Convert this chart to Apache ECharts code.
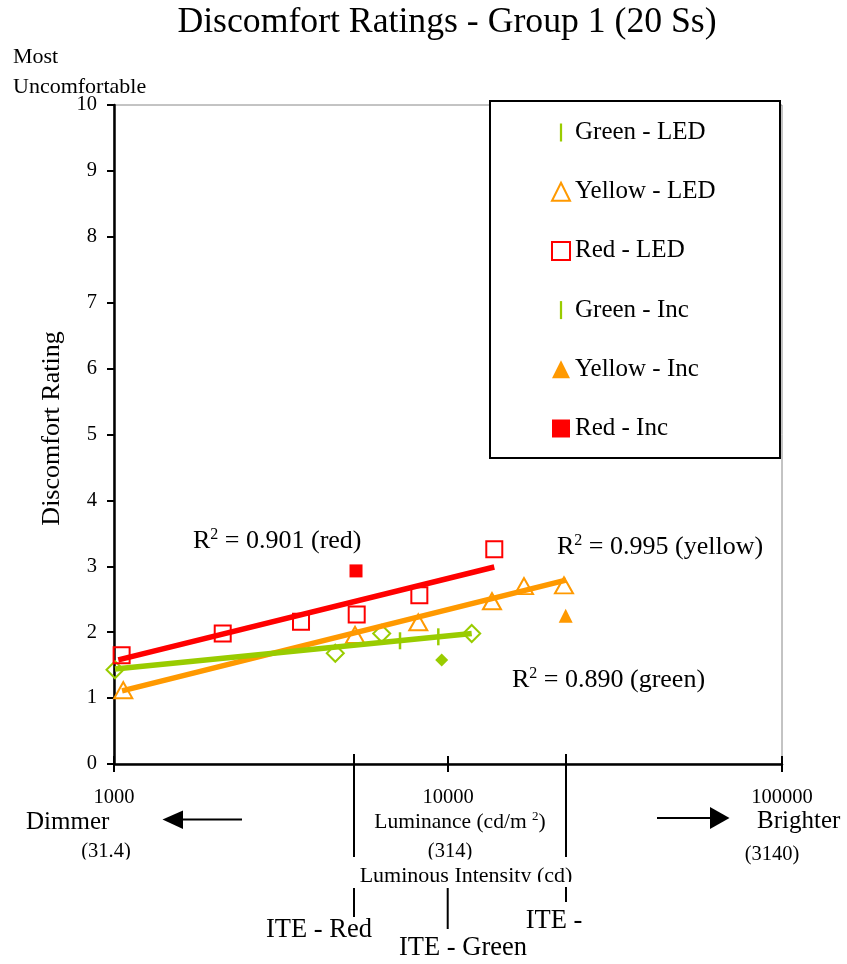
<!DOCTYPE html>
<html><head><meta charset="utf-8">
<script src="https://cdn.jsdelivr.net/npm/echarts@6/dist/echarts.min.js"></script>
<style>html,body{margin:0;padding:0;background:#fff}#c{width:847px;height:964px}</style>
</head><body><div id="c"></div>
<script>
// ---------- data ----------
const xTicks = [1000, 10000, 100000];
const xTickLabels = ['1000', '10000', '100000'];
const intensityLabels = ['(31.4)', '(314)', '(3140)'];

const greenLedX = [1007, 4598, 6331, 11777];
const greenLedY = [1.43, 1.68, 1.98, 1.98];
const greenLedTickX = [7183, 9354];
const greenLedTickY = [1.87, 1.93];
const yellowLedX = [1066, 5268, 8147, 13543, 16886, 22248];
const yellowLedY = [1.12, 1.96, 2.15, 2.47, 2.70, 2.71];
const redLedX = [1054, 2116, 3630, 5329, 8207, 13759];
const redLedY = [1.65, 1.98, 2.16, 2.27, 2.56, 3.26];
const greenIncX = [9574];
const greenIncY = [1.58];
const yellowIncX = [22510];
const yellowIncY = [2.25];
const redIncX = [5304];
const redIncY = [2.93];

const redTrendX = [1030, 13759];
const redTrendY = [1.58, 2.99];
const yellowTrendX = [1057, 22560];
const yellowTrendY = [1.11, 2.79];
const greenTrendX = [1007, 11777];
const greenTrendY = [1.44, 1.98];

const rSquaredLabels = ['0.901 (red)', '0.995 (yellow)', '0.890 (green)'];
const iteX = [5230, 9980, 22560];
const iteLabels = ['ITE - Red', 'ITE - Green', 'ITE -'];
const legendNames = ['Green - LED', 'Yellow - LED', 'Red - LED', 'Green - Inc', 'Yellow - Inc', 'Red - Inc'];

// ---------- styling ----------
const FONT = '"Liberation Serif","Times New Roman",serif';
const GREEN = '#99CC00', ORANGE = '#FF9900', RED = '#FF0000';
const pairs = (xs, ys) => xs.map((x, i) => [x, ys[i]]);
const open = c => ({ color: 'rgba(0,0,0,0)', borderColor: c, borderWidth: 2, opacity: 1 });
const solid = c => ({ color: c, opacity: 1 });
const BAR = 'path://M0,0h2v16h-2z';

const chart = echarts.init(document.getElementById('c'), null, { renderer: 'canvas' });

const baseX = {
  type: 'log', logBase: 10, min: xTicks[0], max: xTicks[xTicks.length - 1],
  gridIndex: 0, position: 'bottom', splitLine: { show: false }, minorTick: { show: false }
};

const trend = (name, xs, ys, c) => ({
  name, type: 'line', data: pairs(xs, ys), symbol: 'none', z: 3, silent: true,
  lineStyle: { color: c, width: 5.5 }, emphasis: { disabled: true }
});
const scat = (name, xs, ys, symbol, size, style) => ({
  name, type: 'scatter', data: pairs(xs, ys), symbol, symbolSize: size, symbolKeepAspect: false,
  itemStyle: style, z: 2, silent: true, emphasis: { disabled: true }
});

chart.setOption({
  animation: false,
  backgroundColor: '#fff',
  grid: { left: 114, right: 65, top: 105, bottom: 200, show: true, borderColor: '#888', borderWidth: 1, containLabel: false },
  xAxis: [
    Object.assign({}, baseX, {
      axisLine: { show: true, onZero: false, lineStyle: { color: '#000', width: 2.5 } },
      axisTick: { show: true, length: 8, lineStyle: { color: '#000', width: 2 } },
      axisLabel: {
        show: true, margin: 23, fontSize: 20.5, fontFamily: FONT, color: '#000',
        formatter: (v) => { const i = xTicks.findIndex(t => Math.abs(t - v) / t < 1e-6); return i >= 0 ? xTickLabels[i] : ''; }
      }
    }),
    Object.assign({}, baseX, {
      axisLine: { show: false },
      axisTick: { show: true, inside: true, length: 8, lineStyle: { color: '#000', width: 2 } },
      axisLabel: { show: false }
    })
  ],
  yAxis: {
    type: 'value', min: 0, max: 10, interval: 1,
    axisLine: { show: true, onZero: false, lineStyle: { color: '#000', width: 2.5 } },
    axisTick: { show: true, length: 7, lineStyle: { color: '#000', width: 2 } },
    axisLabel: { margin: 17, fontSize: 20.5, fontFamily: FONT, color: '#000', padding: [4, 0, 0, 0] },
    splitLine: { show: false },
    name: 'Discomfort Rating', nameLocation: 'middle', nameGap: 49, nameRotate: 90,
    nameTextStyle: { fontSize: 26, fontFamily: FONT, color: '#000', padding: [0, 0, 0, 12] }
  },
  legend: {
    orient: 'vertical', left: 551, top: 120, padding: 0, z: 10,
    itemWidth: 18, itemHeight: 18, itemGap: 34.2, selectedMode: false,
    textStyle: { fontSize: 25, fontFamily: FONT, color: '#000', lineHeight: 25 },
    data: legendNames.map(n => n.indexOf('Green') === 0
      ? { name: n, icon: BAR, itemStyle: { color: GREEN, borderWidth: 0 } }
      : { name: n })
  },
  series: [
    scat('Green - LED', greenLedX, greenLedY, 'diamond', 17, open(GREEN)),
    scat('Green - LED', greenLedTickX, greenLedTickY, BAR, [2.5, 17], solid(GREEN)),
    scat('Yellow - LED', yellowLedX, yellowLedY, 'triangle', [18, 16], open(ORANGE)),
    scat('Red - LED', redLedX, redLedY, 'rect', 16, open(RED)),
    scat('Green - Inc', greenIncX, greenIncY, 'diamond', 13, solid(GREEN)),
    scat('Yellow - Inc', yellowIncX, yellowIncY, 'triangle', 14, solid(ORANGE)),
    scat('Red - Inc', redIncX, redIncY, 'rect', 13, solid(RED)),
    trend('Red trend', redTrendX, redTrendY, RED),
    trend('Yellow trend', yellowTrendX, yellowTrendY, ORANGE),
    trend('Green trend', greenTrendX, greenTrendY, GREEN)
  ]
});

// ---------- annotations positioned through the axes ----------
const px = v => chart.convertToPixel({ xAxisIndex: 0 }, v);
const py = v => chart.convertToPixel({ yAxisIndex: 0 }, v);
const axisY = py(0);

const T = (text, x, y, size, align, z) => ({
  type: 'text', x, y, z: z || 20, silent: true,
  style: { text, font: size + 'px ' + FONT, fill: '#000', align: align || 'left', verticalAlign: 'middle' }
});
const sup = (pre, s, post, x, y, size, align) => ({
  type: 'text', x, y, z: 20, silent: true,
  style: {
    text: '{a|' + pre + '}{b|' + s + '}{a|' + post + '}', align: align || 'left', verticalAlign: 'middle',
    rich: {
      a: { fontSize: size, fontFamily: FONT, fill: '#000', lineHeight: size + 2 },
      b: { fontSize: Math.round(size * 0.62), fontFamily: FONT, fill: '#000', verticalAlign: 'top', lineHeight: Math.round(size * 0.62) }
    }
  }
});
const L = (x1, y1, x2, y2, w) => ({ type: 'line', z: 20, silent: true, shape: { x1, y1, x2, y2 }, style: { stroke: '#000', lineWidth: w || 2 } });
const W = (x, y, w, h) => ({ type: 'rect', z: 25, silent: true, shape: { x, y, width: w, height: h }, style: { fill: '#fff' } });

const g = [];
// legend frame
g.push({ type: 'rect', z: 5, silent: true, shape: { x: 490, y: 101, width: 290, height: 357 }, style: { fill: '#fff', stroke: '#000', lineWidth: 2 } });
// title and corner text
g.push(T('Discomfort Ratings - Group 1 (20 Ss)', 447, 23, 35.7, 'center'));
g.push(T('Most', 13, 57, 22));
g.push(T('Uncomfortable', 13, 87, 22));
// R squared labels
g.push(sup('R', '2', ' = ' + rSquaredLabels[0], 193, 541, 26));
g.push(sup('R', '2', ' = ' + rSquaredLabels[1], 557, 547, 26));
g.push(sup('R', '2', ' = ' + rSquaredLabels[2], 512, 680, 26));
// below axis: Dimmer / Brighter and arrows
g.push(T('Dimmer', 26, 822, 25));
g.push(T('Brighter', 757, 821, 25));
g.push(L(242, 819.5, 181, 819.5, 2));
g.push({ type: 'polygon', z: 20, silent: true, shape: { points: [[162.5, 819.5], [183, 810.5], [183, 829]] }, style: { fill: '#000' } });
g.push(L(657, 818, 711, 818, 2));
g.push({ type: 'polygon', z: 20, silent: true, shape: { points: [[729.5, 818], [710, 807], [710, 829]] }, style: { fill: '#000' } });
g.push(sup('Luminance (cd/m ', '2', ')', 460, 822, 21.5, 'center'));
// luminous intensity equivalents under each tick
const subDx = [-8, 2, -10], subY = [852, 852, 855];
xTicks.forEach((t, i) => g.push(T(intensityLabels[i], px(t) + subDx[i], subY[i], 20.5, 'center')));
g.push(W(60, 859.5, 440, 7));
g.push(T('Luminous Intensity (cd)', 466, 876, 22, 'center'));
g.push(W(355, 882, 225, 5));
// ITE markers: [label x, label y, clip top, clip half width, clip height]
const iteSegs = [[[axisY - 10, 857], [888, 917]], [[888, 929]], [[axisY - 10, 857], [887, 902]]];
const iteLabelPos = [[319, 930, 937, 62, 27], [463, 948, 957, 72, 7], [554, 921, 928, 38, 10]];
iteX.forEach((v, i) => {
  const x = px(v);
  iteSegs[i].forEach(s => g.push(L(x, s[0], x, s[1], 2)));
  const p = iteLabelPos[i];
  g.push(T(iteLabels[i], p[0], p[1], 26.5, 'center'));
  g.push(W(p[0] - p[3], p[2], 2 * p[3], p[4]));
});

chart.setOption({ graphic: { elements: g } });
</script></body></html>
